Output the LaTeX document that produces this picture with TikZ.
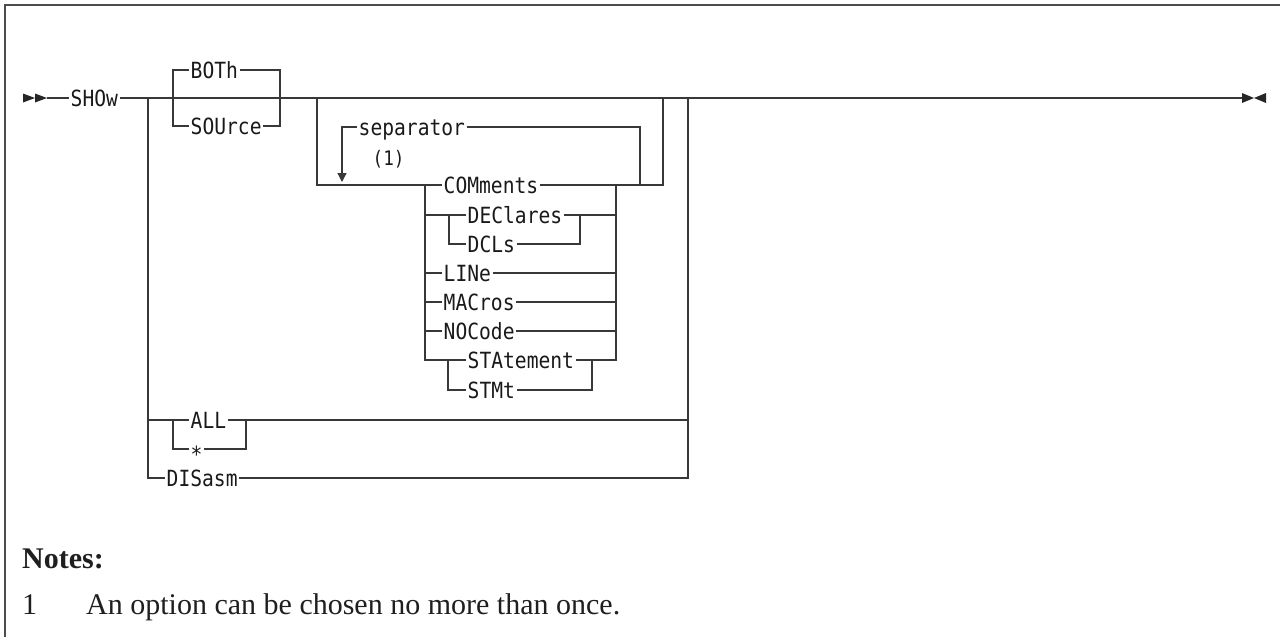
\documentclass[tikz,border=0pt]{standalone}
\usepackage{fontspec}
\setmainfont{Liberation Serif}
\newfontfamily\synfont[FakeStretch=0.88]{DejaVu Sans Mono}
\usetikzlibrary{arrows.meta}
\tikzset{
  every picture/.style={line join=miter, >=Stealth},
  rail/.style={line width=1.3pt, draw=black!78},
  kw/.style={font=\synfont\fontsize{22.3}{24}\selectfont, text=black!90, anchor=west, inner sep=1.5pt, text height=16.3pt, text depth=0pt},
  notetext/.style={font=\fontsize{30}{32}\selectfont, text=black!88, anchor=base west, inner sep=0pt},
}

\begin{document}
\begin{tikzpicture}[x=1pt,y=-1pt]
\useasboundingbox (0,0) rectangle (1280,637);
\draw[line width=1.5pt,draw=black!70] (5,645) -- (5,5) -- (1290,5);

\node[kw] (show) at (69,98) {SHOw};
\node[kw] (both) at (189,70) {BOTh};
\node[kw] (source) at (189,126) {SOUrce};
\node[kw] (sep) at (357,127) {separator};
\node[kw,font=\synfont\fontsize{20}{22}\selectfont] (once) at (371,157) {(1)};
\node[kw] (com) at (442,185) {COMments};
\node[kw] (dec) at (466,215) {DEClares};
\node[kw] (dcl) at (466,244) {DCLs};
\node[kw] (lin) at (442,273) {LINe};
\node[kw] (mac) at (442,302) {MACros};
\node[kw] (noc) at (442,331) {NOCode};
\node[kw] (sta) at (466,360) {STAtement};
\node[kw] (stm) at (466,390) {STMt};
\node[kw] (all) at (189,420) {ALL};
\node[kw] (star) at (189,449) {\raisebox{-5pt}{*}};
\node[kw] (dis) at (165,478) {DISasm};

\coordinate (start) at (47,98);
\coordinate (stop) at (1242,98);
\coordinate (bl) at (173,98);
\coordinate (br) at (280,98);
\coordinate (ol) at (148,98);
\coordinate (or) at (688,98);
\coordinate (gl) at (317,98);
\coordinate (gr) at (663,98);
\coordinate (ll) at (342,182);
\coordinate (lr) at (640,185);
\coordinate (sl) at (425,185);
\coordinate (sr) at (616,185);
\coordinate (dl) at (449,215);
\coordinate (dr) at (580,215);
\coordinate (tl) at (448,360);
\coordinate (tr) at (592,360);
\coordinate (al) at (173,420);
\coordinate (ar) at (246,420);

\fill[black!85] (23,93.5) -- (35,98) -- (23,102.5) -- cycle (35,93.5) -- (47,98) -- (35,102.5) -- cycle;
\fill[black!85] (1242,93) -- (1254,98) -- (1242,103) -- cycle (1266,93) -- (1254,98) -- (1266,103) -- cycle;

\draw[rail] (start) -- (show.west) (show.east) -- (stop);
\draw[rail] (both.west) -| (bl) |- (source.west) (both.east) -| (br) |- (source.east);
\draw[rail] (gl) |- (com.west) (com.east) -| (gr);
\draw[rail,-{Triangle[length=9pt,width=9pt]}] (sep.west) -| (ll);
\draw[rail] (sep.east) -| (lr);
\draw[rail] (sl) |- (tl) -- (sta.west) (sr) |- (tr) -- (sta.east);
\draw[rail] (tl) |- (stm.west) (tr) |- (stm.east);
\draw[rail] (sl |- dl) -- (dl) -- (dec.west) (dl) |- (dcl.west) (dec.east) -- (dr) -- (sr |- dr) (dr) |- (dcl.east);
\foreach \k in {lin,mac,noc}
  \draw[rail] (sl |- \k.west) -- (\k.west) (\k.east) -- (sr |- \k.east);
\draw[rail] (ol) |- (dis.west) (dis.east) -| (or);
\draw[rail] (ol |- al) -- (all.west) (al) |- (star.west) (all.east) -- (or |- ar) (ar) |- (star.east);

\node[notetext,font=\bfseries\fontsize{30}{32}\selectfont] (notes) at (22,568) {Notes:};
\node[notetext] (num) at (22,614) {1};
\node[notetext] (note) at (86,614) {An option can be chosen no more than once.};
\end{tikzpicture}
\end{document}
